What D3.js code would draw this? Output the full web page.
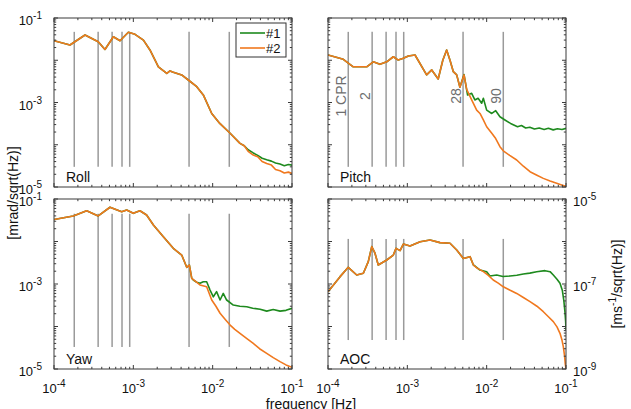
<!DOCTYPE html>
<html><head><meta charset="utf-8">
<script src="https://cdn.jsdelivr.net/npm/d3@7"></script>
<style>body{margin:0;background:#fff} svg{display:block;font-family:"Liberation Sans",Arial,sans-serif}</style>
</head><body><svg id="c" width="631" height="409"></svg>
<script>
// ---------------- DATA ----------------
const seriesNames = ["#1", "#2"];
const seriesColors = ["#1e8a1e", "#f0781e"];
const xTickLabels = ["-4", "-3", "-2", "-1"];
const cprFreqs = [1.8e-4, 3.6e-4, 5.4e-4, 7.2e-4, 9.0e-4, 5.04e-3, 1.62e-2];
const cprLabels = ["1 CPR", "2", "", "", "", "28", "90"];

// Roll
const rollLowF = [1.0e-4,1.59e-4,2.46e-4,3.61e-4,4.39e-4,5.6e-4,6.8e-4,8.65e-4,1.05e-3,1.34e-3,1.62e-3,2.07e-3,2.64e-3,2.9e-3,3.19e-3,4.07e-3,4.93e-3,6.3e-3,7.62e-3,9.73e-3,1.23e-2,1.66e-2,2.21e-2];
const rollLowV = [2.9e-2,2.3e-2,3.96e-2,2.75e-2,1.8e-2,3.6e-2,2.9e-2,4.6e-2,4.1e-2,3.0e-2,1.75e-2,7.0e-3,4.9e-3,5.6e-3,5.2e-3,4.48e-3,3.41e-3,2.37e-3,1.51e-3,5.5e-4,3.2e-4,1.87e-4,1.08e-4];
const roll1F = [2.5e-2,2.8e-2,3.25e-2,3.7e-2,4.2e-2,4.8e-2,5.5e-2,6.2e-2,7.06e-2,8.0e-2,9.0e-2,1e-1];
const roll1V = [9.5e-5,7.6e-5,6.4e-5,5.6e-5,4.8e-5,4.4e-5,4.1e-5,3.7e-5,3.5e-5,3.2e-5,3.4e-5,3.3e-5];
const roll2F = [2.5e-2,2.8e-2,3.25e-2,3.7e-2,4.2e-2,4.8e-2,5.5e-2,6.2e-2,7.06e-2,8.0e-2,9.0e-2,1e-1];
const roll2V = [9.5e-5,7.0e-5,5.7e-5,5.2e-5,4.0e-5,3.6e-5,3.3e-5,2.6e-5,2.43e-5,2.15e-5,2.25e-5,2.1e-5];

// Pitch
const pitchLowF = [1.0e-4,1.56e-4,2.08e-4,3.08e-4,3.72e-4,4.52e-4,5.5e-4,6.66e-4,7.69e-4,8.9e-4,1.03e-3,1.25e-3,1.75e-3,2.03e-3,2.45e-3,2.8e-3,3.13e-3,3.45e-3,3.8e-3,4.19e-3,4.6e-3];
const pitchLowV = [1.33e-2,1.05e-2,7.0e-3,7.0e-3,9.2e-3,8.0e-3,9.2e-3,1.21e-2,1.01e-2,1.11e-2,1.26e-2,1.33e-2,4.5e-3,5.9e-3,3.6e-3,1.0e-2,1.75e-2,1.0e-2,5.36e-3,4.5e-3,2.29e-3];
const pitch1F = [5.18e-3,5.75e-3,6.47e-3,7.1e-3,7.8e-3,8.65e-3,9.08e-3,1.0e-2,1.16e-2,1.3e-2,1.47e-2,1.7e-2,2.0e-2,2.45e-2,2.75e-2,3.1e-2,3.5e-2,4.0e-2,4.6e-2,5.3e-2,6.0e-2,6.9e-2,7.8e-2,8.9e-2,1e-1];
const pitch1V = [4.6e-3,1.5e-3,1.65e-3,1.15e-3,1.26e-3,9.6e-4,1.26e-3,6.6e-4,5.5e-4,6.4e-4,4.6e-4,3.86e-4,3.2e-4,2.67e-4,2.85e-4,2.5e-4,2.6e-4,2.35e-4,2.5e-4,2.3e-4,2.45e-4,2.25e-4,2.4e-4,2.3e-4,2.45e-4];
const pitch2F = [5.18e-3,5.6e-3,6.47e-3,7.48e-3,8.24e-3,9.08e-3,1.0e-2,1.16e-2,1.3e-2,1.47e-2,1.62e-2,1.95e-2,2.39e-2,2.9e-2,3.52e-2,4.3e-2,5.18e-2,6.3e-2,7.63e-2,8.8e-2,1e-1];
const pitch2V = [4.5e-3,2.05e-3,1.15e-3,6.6e-4,5.5e-4,3.86e-4,2.67e-4,1.87e-4,1.4e-4,9.0e-5,7.2e-5,5.6e-5,4.35e-5,3.1e-5,2.3e-5,1.9e-5,1.6e-5,1.38e-5,1.22e-5,1.12e-5,1.04e-5];

// Yaw
const yawLowF = [1.0e-4,1.75e-4,2.58e-4,3.61e-4,5.08e-4,7.13e-4,8.24e-4,1.0e-3,1.21e-3,1.47e-3,1.79e-3,2.39e-3,3.19e-3,4.07e-3,4.71e-3,5.08e-3,5.45e-3];
const yawLowV = [3.3e-2,4.0e-2,5.3e-2,4.0e-2,6.4e-2,5.0e-2,5.5e-2,4.6e-2,5.3e-2,4.2e-2,2.45e-2,1.3e-2,6.9e-3,4.8e-3,2.47e-3,2.8e-3,1.36e-3];
const yaw1F = [5.7e-3,6.3e-3,6.92e-3,7.62e-3,8.4e-3,9.27e-3,1.02e-2,1.12e-2,1.24e-2,1.36e-2,1.5e-2,1.82e-2,2.2e-2,2.69e-2,3.2e-2,3.96e-2,4.8e-2,5.8e-2,7.06e-2,8.4e-2,1e-1];
const yaw1V = [1.24e-3,1.1e-3,1.04e-3,1.13e-3,1.13e-3,7.2e-4,5.0e-4,6.6e-4,4.2e-4,6.0e-4,4.2e-4,3.2e-4,3.0e-4,2.92e-4,2.7e-4,2.54e-4,2.3e-4,2.5e-4,2.3e-4,2.4e-4,2.68e-4];
const yaw2F = [6.92e-3,8.4e-3,9.73e-3,1.1e-2,1.24e-2,1.45e-2,1.66e-2,1.9e-2,2.21e-2,2.7e-2,3.25e-2,3.9e-2,4.8e-2,5.8e-2,7.06e-2,8.4e-2,1e-1];
const yaw2V = [9.5e-4,8.6e-4,4.2e-4,3.0e-4,2.05e-4,1.45e-4,1.08e-4,8.6e-5,6.9e-5,5.2e-5,4.0e-5,3.0e-5,2.34e-5,1.85e-5,1.49e-5,1.25e-5,1.1e-5];

// AOC
const aocLowF = [1.0e-4,1.42e-4,1.8e-4,2.3e-4,2.79e-4,3.22e-4,3.56e-4,3.91e-4,4.3e-4,5.5e-4,6.66e-4,7.2e-4,8.1e-4,8.9e-4,1.08e-3,1.45e-3,1.93e-3,2.58e-3,3.45e-3,4.19e-3,5.08e-3,6.17e-3,6.8e-3];
const aocLowV = [6.6e-8,1.49e-7,2.47e-7,1.63e-7,1.79e-7,3.35e-7,7.6e-7,5.3e-7,2.8e-7,3.67e-7,4.8e-7,6.9e-7,6.1e-7,8.7e-7,7.8e-7,9.9e-7,1.08e-6,9.4e-7,9.1e-7,6.3e-7,4.0e-7,4.4e-7,2.8e-7];
const aoc1F = [7.13e-3,8.24e-3,1.0e-2,1.1e-2,1.34e-2,1.6e-2,1.97e-2,2.4e-2,2.9e-2,3.5e-2,4.27e-2,5.44e-2,6.3e-2,6.92e-2,7.7e-2,8.4e-2,9.0e-2,9.4e-2,9.7e-2,9.9e-2,1e-1];
const aoc1V = [2.65e-7,2.13e-7,1.95e-7,1.54e-7,1.63e-7,1.5e-7,1.54e-7,1.6e-7,1.72e-7,1.8e-7,1.95e-7,2.06e-7,1.95e-7,1.63e-7,1.3e-7,1.04e-7,7.0e-8,4.0e-8,2.2e-8,1.3e-8,8.3e-9];
const aoc2F = [7.5e-3,9.1e-3,1.05e-2,1.21e-2,1.4e-2,1.62e-2,1.95e-2,2.39e-2,2.9e-2,3.52e-2,4.3e-2,5.18e-2,6.0e-2,6.92e-2,7.7e-2,8.4e-2,8.9e-2,9.25e-2,9.6e-2,9.8e-2,1e-1];
const aoc2V = [2.4e-7,1.95e-7,1.6e-7,1.24e-7,1.05e-7,8.6e-8,7.2e-8,6.0e-8,4.8e-8,3.84e-8,3.0e-8,2.23e-8,1.7e-8,1.3e-8,9.8e-9,6.9e-9,4.8e-9,3.35e-9,2.0e-9,1.3e-9,1.0e-9];

// ---------------- DRAW ----------------
const svg = d3.select("#c");
const cols = [[54, 292], [328, 566]];
const rows = [[18, 187], [199, 369]];
const xDomain = [1e-4, 1e-1];

const panels = [
  {name:"Roll", c:0, r:0, dom:[1e-5,1e-1], span:[3e-5,4.7e-2], low:[rollLowF,rollLowV], s1:[roll1F,roll1V], s2:[roll2F,roll2V], yLab:"left", yLabels:["-1","-3","-5"], legend:true},
  {name:"Pitch", c:1, r:0, dom:[1e-5,1e-1], span:[3e-5,4.7e-2], low:[pitchLowF,pitchLowV], s1:[pitch1F,pitch1V], s2:[pitch2F,pitch2V], yLab:null, cpr:true},
  {name:"Yaw", c:0, r:1, dom:[1e-5,1e-1], span:[3.3e-5,4.5e-2], low:[yawLowF,yawLowV], s1:[yaw1F,yaw1V], s2:[yaw2F,yaw2V], yLab:"left", yLabels:["-1","-3","-5"], xLab:true},
  {name:"AOC", c:1, r:1, dom:[1e-9,1e-5], span:[4.8e-9,1.15e-6], low:[aocLowF,aocLowV], s1:[aoc1F,aoc1V], s2:[aoc2F,aoc2V], yLab:"right", yLabels:["-5","-7","-9"], xLab:true}
];

function logTicks(dom) {
  const lo = Math.round(Math.log10(dom[0])), hi = Math.round(Math.log10(dom[1]));
  const major = [], minor = [];
  for (let e = lo; e <= hi; e++) {
    major.push(Math.pow(10, e));
    if (e < hi) for (let k = 2; k <= 9; k++) minor.push(k * Math.pow(10, e));
  }
  return {major, minor};
}

function supLabel(sel, base, exp) {
  sel.append("tspan").attr("font-size", 13).text(base);
  sel.append("tspan").attr("font-size", 10).attr("dy", -6).text(exp);
}

const axisColor = "#3a3a3a";

panels.forEach((p, pi) => {
  const [x0, x1] = cols[p.c], [y0, y1] = rows[p.r];
  const x = d3.scaleLog().domain(xDomain).range([x0, x1]);
  const y = d3.scaleLog().domain(p.dom).range([y1, y0]);
  const g = svg.append("g");

  const clipId = "clip" + pi;
  svg.append("clipPath").attr("id", clipId).append("rect")
    .attr("x", x0).attr("y", y0 - 1).attr("width", x1 - x0).attr("height", y1 - y0 + 2);

  // vertical CPR lines
  g.selectAll("line.cpr").data(cprFreqs).join("line")
    .attr("x1", d => x(d)).attr("x2", d => x(d))
    .attr("y1", y(p.span[1])).attr("y2", y(p.span[0]))
    .attr("stroke", "#9a9a9a").attr("stroke-width", 1.5);

  // series
  const line = d3.line().x(d => x(d[0])).y(d => y(d[1]));
  const mk = (low, hi) => low[0].map((f, i) => [f, low[1][i]]).concat(hi[0].map((f, i) => [f, hi[1][i]]));
  const lg = g.append("g").attr("clip-path", `url(#${clipId})`);
  [mk(p.low, p.s1), mk(p.low, p.s2)].forEach((d, i) => {
    lg.append("path").datum(d).attr("d", line).attr("fill", "none")
      .attr("stroke", seriesColors[i]).attr("stroke-width", 1.6).attr("stroke-linejoin", "round");
  });

  // frame
  g.append("rect").attr("x", x0).attr("y", y0).attr("width", x1 - x0).attr("height", y1 - y0)
    .attr("fill", "none").attr("stroke", axisColor).attr("stroke-width", 1);

  // ticks
  const xt = logTicks(xDomain), yt = logTicks(p.dom);
  const tk = g.append("g").attr("stroke", axisColor).attr("stroke-width", 1);
  const addX = (vals, len) => vals.forEach(v => {
    tk.append("line").attr("x1", x(v)).attr("x2", x(v)).attr("y1", y1).attr("y2", y1 - len);
    tk.append("line").attr("x1", x(v)).attr("x2", x(v)).attr("y1", y0).attr("y2", y0 + len);
  });
  const addY = (vals, len) => vals.forEach(v => {
    tk.append("line").attr("y1", y(v)).attr("y2", y(v)).attr("x1", x0).attr("x2", x0 + len);
    tk.append("line").attr("y1", y(v)).attr("y2", y(v)).attr("x1", x1).attr("x2", x1 - len);
  });
  addX(xt.major, 4); addX(xt.minor, 2.2);
  addY(yt.major, 4); addY(yt.minor, 2.2);

  // y labels
  if (p.yLab) {
    const lv = [p.dom[1], Math.sqrt(p.dom[0] * p.dom[1]), p.dom[0]];
    lv.forEach((v, i) => {
      const t = svg.append("text").attr("y", y(v) + 7).attr("fill", "#111");
      if (p.yLab === "left") t.attr("x", 42).attr("text-anchor", "end");
      else t.attr("x", 573).attr("text-anchor", "start");
      supLabel(t, "10", p.yLabels[i]);
    });
  }
  // x labels
  if (p.xLab) {
    xt.major.forEach((v, i) => {
      const t = svg.append("text").attr("x", x(v)).attr("y", 393).attr("text-anchor", "middle").attr("fill", "#111");
      supLabel(t, "10", xTickLabels[i]);
    });
  }
  // panel name
  svg.append("text").attr("x", x0 + 12).attr("y", y1 - 5.5).attr("font-size", 14).attr("fill", "#111").text(p.name);

  // CPR labels
  if (p.cpr) {
    cprFreqs.forEach((f, i) => {
      if (!cprLabels[i]) return;
      const cx = x(f) - 2, cy = 96;
      svg.append("text").attr("transform", `translate(${cx},${cy}) rotate(-90)`)
        .attr("text-anchor", "middle").attr("font-size", 14).attr("fill", "#6e6e6e").text(cprLabels[i]);
    });
  }

  // legend
  if (p.legend) {
    const lgd = svg.append("g");
    lgd.append("rect").attr("x", 236).attr("y", 23).attr("width", 50).attr("height", 34)
      .attr("fill", "#fff").attr("stroke", "#333").attr("stroke-width", 1);
    seriesNames.forEach((n, i) => {
      const yy = 33 + i * 15;
      lgd.append("line").attr("x1", 240).attr("x2", 265).attr("y1", yy).attr("y2", yy)
        .attr("stroke", seriesColors[i]).attr("stroke-width", 1.6);
      lgd.append("text").attr("x", 266).attr("y", yy + 5).attr("font-size", 13).attr("fill", "#111").text(n);
    });
  }
});

// axis titles
svg.append("text").attr("x", 311).attr("y", 409).attr("text-anchor", "middle").attr("font-size", 14).attr("fill", "#111").text("frequency [Hz]");
svg.append("text").attr("transform", "translate(18,193) rotate(-90)").attr("text-anchor", "middle")
  .attr("font-size", 14).attr("fill", "#111").text("[mrad/sqrt(Hz)]");
const rt = svg.append("text").attr("transform", "translate(622,284) rotate(-90)").attr("text-anchor", "middle")
  .attr("font-size", 14).attr("fill", "#111");
rt.append("tspan").text("[ms");
rt.append("tspan").attr("font-size", 10).attr("dy", -6).text("-1");
rt.append("tspan").attr("dy", 6).text("/sqrt(Hz)]");
</script></body></html>
